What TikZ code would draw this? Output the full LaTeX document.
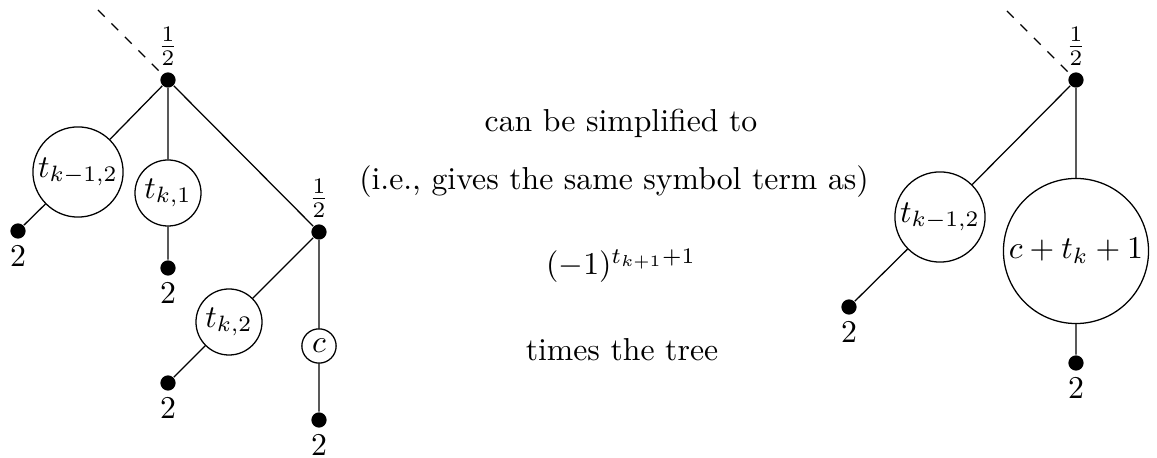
\documentclass[tikz,border=0pt]{standalone}
\begin{document}
\begin{tikzpicture}[x=0.315pt,y=-0.315pt,
  dot/.style={circle,fill=black,inner sep=0pt,minimum size=4.8pt},
  tnode/.style={circle,draw,inner sep=0pt,minimum size=#1},
  half/.style={label={[label distance=-1.5pt]above:$\frac12$}},
  two/.style={label={[inner sep=0.5pt,label distance=1.5pt]below:$2$}},
  edge/.style={draw,line width=0.4pt}]
\useasboundingbox (0,0) rectangle (1157,458);
% left tree
\node[dot,half] (r1) at (168,80) {};
\coordinate (d1) at (98,10);
\node[tnode=28.4pt] (a1) at (78,172) {$t_{k-1,2}$};
\node[dot,two] (a1l) at (18,231) {};
\node[tnode=20.8pt] (b1) at (168,193) {$t_{k,1}$};
\node[dot,two] (b1l) at (168,268) {};
\node[dot,half] (m1) at (319,232) {};
\node[tnode=20.8pt] (e1) at (229,322) {$t_{k,2}$};
\node[dot,two] (e1l) at (168,383) {};
\node[tnode=10.8pt] (c1) at (319,346) {$c$};
\node[dot,two] (c1l) at (319,420) {};
\draw[dashed] (d1) -- (r1);
\path[edge] (r1) -- (a1) (a1) -- (a1l) (r1) -- (b1) (b1) -- (b1l)
  (r1) -- (m1) (m1) -- (e1) (e1) -- (e1l) (m1) -- (c1) (c1) -- (c1l);
% middle text
\node (t1) at (621,123) {can be simplified to};
\node (t2) at (614,182) {(i.e., gives the same symbol term as)};
\node (t3) at (621,266) {$(-1)^{t_{k+1}+1}$};
\node (t4) at (622,350) {times the tree};
% right tree
\node[dot,half] (r2) at (1076,80) {};
\coordinate (d2) at (1007,11);
\node[tnode=28.4pt] (a2) at (940,217) {$t_{k-1,2}$};
\node[dot,two] (a2l) at (849,307) {};
\node[tnode=45.7pt] (b2) at (1076,251) {$c+t_k+1$};
\node[dot,two] (b2l) at (1076,363) {};
\draw[dashed] (d2) -- (r2);
\path[edge] (r2) -- (a2) (a2) -- (a2l) (r2) -- (b2) (b2) -- (b2l);
\end{tikzpicture}
\end{document}
